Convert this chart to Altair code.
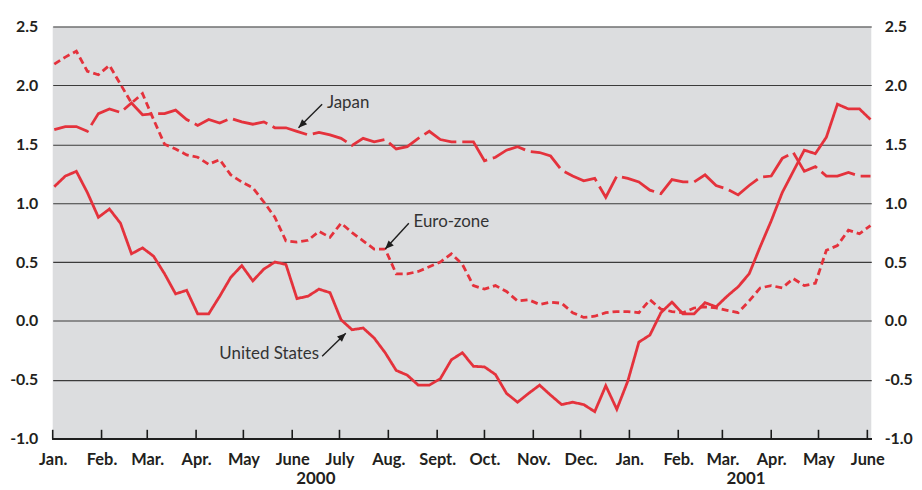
import altair as alt
import pandas as pd

# ---------------- data (weekly, Jan 2000 - June 2001) ----------------
dates = pd.date_range("2000-01-02", periods=75, freq="7D").strftime("%Y-%m-%d").tolist()

united_states = [1.14, 1.23, 1.27, 1.09, 0.88, 0.95, 0.83, 0.57, 0.62, 0.55,
                 0.40, 0.23, 0.26, 0.06, 0.06, 0.21, 0.37, 0.47, 0.34, 0.44,
                 0.50, 0.48, 0.19, 0.21, 0.27, 0.24, 0.01, -0.075, -0.06, -0.145,
                 -0.27, -0.42, -0.46, -0.545, -0.545, -0.49, -0.33, -0.27, -0.385, -0.39,
                 -0.455, -0.615, -0.69, -0.615, -0.545, -0.63, -0.71, -0.69, -0.71, -0.77,
                 -0.55, -0.75, -0.51, -0.18, -0.12, 0.07, 0.16, 0.06, 0.06, 0.155,
                 0.12, 0.21, 0.29, 0.40, 0.63, 0.85, 1.09, 1.27, 1.45, 1.42,
                 1.56, 1.84, 1.80, 1.80, 1.71]

japan = [1.625, 1.65, 1.65, 1.61, 1.76, 1.80, 1.77, 1.85, 1.75, 1.76,
         1.76, 1.79, 1.71, 1.66, 1.71, 1.68, 1.72, 1.69, 1.67, 1.69,
         1.64, 1.64, 1.61, 1.58, 1.60, 1.58, 1.55, 1.49, 1.55, 1.52,
         1.54, 1.46, 1.48, 1.55, 1.61, 1.54, 1.52, 1.52, 1.52, 1.36,
         1.39, 1.45, 1.48, 1.44, 1.43, 1.40, 1.28, 1.23, 1.19, 1.21,
         1.05, 1.23, 1.21, 1.18, 1.11, 1.08, 1.20, 1.18, 1.18, 1.24,
         1.15, 1.12, 1.07, 1.15, 1.22, 1.23, 1.38, 1.43, 1.27, 1.31,
         1.23, 1.23, 1.26, 1.23, 1.23]

euro_zone = [2.18, 2.24, 2.29, 2.12, 2.09, 2.17, 2.01, 1.85, 1.93, 1.71,
             1.50, 1.46, 1.41, 1.39, 1.33, 1.37, 1.24, 1.18, 1.13, 1.01,
             0.88, 0.68, 0.67, 0.685, 0.76, 0.71, 0.83, 0.75, 0.68, 0.61,
             0.61, 0.40, 0.40, 0.42, 0.46, 0.50, 0.57, 0.48, 0.30, 0.27,
             0.30, 0.25, 0.17, 0.18, 0.14, 0.16, 0.15, 0.07, 0.03, 0.04,
             0.07, 0.08, 0.08, 0.07, 0.18, 0.10, 0.08, 0.07, 0.11, 0.12,
             0.11, 0.09, 0.07, 0.17, 0.28, 0.30, 0.28, 0.36, 0.30, 0.32,
             0.60, 0.64, 0.77, 0.74, 0.81]

series_names = ["United States", "Japan", "Euro-zone"]
month_labels = ["Jan.", "Feb.", "Mar.", "Apr.", "May", "June", "July",
                "Aug.", "Sept.", "Oct.", "Nov.", "Dec."]
tick_dates = pd.date_range("2000-01-01", "2001-06-01", freq="MS").strftime("%Y-%m-%d").tolist()
y_ticks = [-1.0, -0.5, 0.0, 0.5, 1.0, 1.5, 2.0, 2.5]

year_labels = ["2000", "2001"]
year_dates = ["2000-06-16", "2001-03-16"]

# annotations: label, text anchor, arrow tail, arrow tip
ann_labels = ["Japan", "Euro-zone", "United States"]
ann_text_dates = ["2000-06-23", "2000-08-17", "2000-06-18"]
ann_text_vals = [1.85, 0.84, -0.285]
ann_tail_dates = ["2000-06-20", "2000-08-14", "2000-06-20"]
ann_tail_vals = [1.84, 0.83, -0.30]
ann_tip_dates = ["2000-06-05", "2000-07-30", "2000-07-05"]
ann_tip_vals = [1.64, 0.61, -0.105]
ann_angles = [225, 224, 47]

# ---------------- frames ----------------
rows = []
for name, vals in zip(series_names, [united_states, japan, euro_zone]):
    for d, v in zip(dates, vals):
        rows.append({"date": d, "value": v, "series": name})
df = pd.DataFrame(rows)

ticks_df = pd.DataFrame({"date": tick_dates})
years_df = pd.DataFrame({"date": year_dates, "label": year_labels})
ann_df = pd.DataFrame({
    "label": ann_labels,
    "tdate": ann_text_dates, "tval": ann_text_vals,
    "date": ann_tail_dates, "value": ann_tail_vals,
    "date2": ann_tip_dates, "value2": ann_tip_vals,
    "angle": ann_angles,
})


def ms(d):
    return int(pd.Timestamp(d, tz="UTC").value // 10**6)


W, H = 824, 415
RED = "#e4323c"
FONT = "Lato"
TXT = "#231f20"

x_scale = alt.Scale(type="utc", domain=[ms("2000-01-01"), ms("2001-06-03 12:00")], nice=False)
y_scale = alt.Scale(domain=[-1.0, 2.5], nice=False, zero=False)

label_expr = "[" + ",".join("'%s'" % m for m in month_labels) + "][utcmonth(datum.value)]"
x_axis = alt.Axis(values=[ms(d) for d in tick_dates], labelExpr=label_expr, title=None,
                  ticks=False, tickSize=0, domain=False, grid=False, labelOverlap=False,
                  labelFont=FONT, labelFontWeight="bold", labelFontSize=16.5, labelColor=TXT,
                  labelPadding=21, labelBaseline="middle", labelFlush=False)

num_expr = "(datum.value < 0 ? '-' : '') + format(abs(datum.value), '.1f')"
y_left = alt.Axis(values=y_ticks, labelExpr=num_expr, title=None, ticks=False, domain=False,
                  grid=True, gridColor="#3b3b3b", gridWidth=1.1, orient="left",
                  labelFont=FONT, labelFontWeight="bold", labelFontSize=16, labelColor=TXT,
                  labelPadding=15, labelAlign="right", labelBaseline="middle")
y_right = alt.Axis(values=y_ticks, labelExpr=num_expr, title=None, ticks=False, domain=False,
                   grid=False, orient="right",
                   labelFont=FONT, labelFontWeight="bold", labelFontSize=16, labelColor=TXT,
                   labelPadding=13, labelAlign="left", labelBaseline="middle")

X = alt.X("date:T", scale=x_scale, axis=x_axis)

lines = alt.Chart(df).mark_line(strokeWidth=2.8, color=RED).encode(
    x=X,
    y=alt.Y("value:Q", scale=y_scale, axis=y_left),
    strokeDash=alt.StrokeDash("series:N",
                              scale=alt.Scale(domain=series_names,
                                              range=[[1, 0], [36, 6], [7, 4]]),
                              legend=None),
)

right_axis = alt.Chart(df).mark_point(opacity=0).encode(
    x=X,
    y=alt.Y("value:Q", scale=y_scale, axis=y_right),
)

bottom_line = alt.Chart(ticks_df).mark_rule(color="#1e1e1e", strokeWidth=1.6).encode(
    x=alt.value(0), x2=alt.value(W), y=alt.value(H),
)

tick_marks = alt.Chart(ticks_df).mark_rule(color="#1a1a1a", strokeWidth=1.6).encode(
    x=X, y=alt.value(H), y2=alt.value(H - 9),
)

years = alt.Chart(years_df).mark_text(font=FONT, fontWeight="bold", fontSize=17,
                                      color=TXT, baseline="middle", align="center").encode(
    x=X, y=alt.value(H + 41), text="label:N",
)

arrow_lines = alt.Chart(ann_df).mark_rule(color="#1e1e1e", strokeWidth=1.4).encode(
    x=X, x2="date2:T",
    y=alt.Y("value:Q", scale=y_scale, axis=None), y2="value2:Q",
)

arrow_heads = alt.Chart(ann_df).mark_point(shape="M0,0L-0.42,1L0.42,1Z", filled=True,
                                           size=300, color="#1e1e1e", opacity=1).encode(
    x=alt.X("date2:T", scale=x_scale, axis=x_axis),
    y=alt.Y("value2:Q", scale=y_scale, axis=None),
    angle=alt.Angle("angle:Q", scale=None),
)

text_left = alt.Chart(ann_df).transform_filter(
    alt.datum.label != "United States"
).mark_text(font=FONT, fontSize=17, color="#333333", align="left", baseline="middle").encode(
    x=alt.X("tdate:T", scale=x_scale, axis=x_axis),
    y=alt.Y("tval:Q", scale=y_scale, axis=None),
    text="label:N",
)

text_right = alt.Chart(ann_df).transform_filter(
    alt.datum.label == "United States"
).mark_text(font=FONT, fontSize=17, color="#333333", align="right", baseline="middle").encode(
    x=alt.X("tdate:T", scale=x_scale, axis=x_axis),
    y=alt.Y("tval:Q", scale=y_scale, axis=None),
    text="label:N",
)

chart = alt.layer(
    lines, right_axis, bottom_line, tick_marks, years,
    arrow_lines, arrow_heads, text_left, text_right,
).resolve_axis(y="independent").properties(
    width=W, height=H,
    autosize=alt.AutoSizeParams(type="none"),
    padding={"left": 45, "top": 17, "right": 43, "bottom": 48},
).configure_view(fill="#dcdddf", strokeWidth=0)

chart.save("out.html", embed_options={"renderer": "svg", "actions": False})
